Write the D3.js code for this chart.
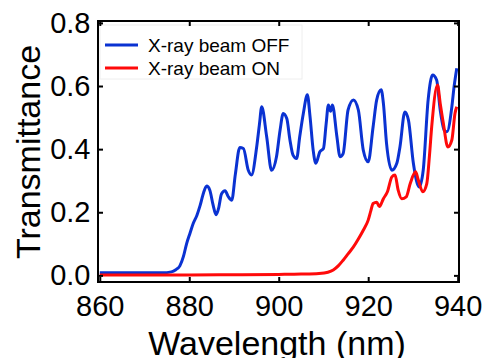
<!DOCTYPE html>
<html>
<head>
<meta charset="utf-8">
<script src="https://cdn.jsdelivr.net/npm/d3@7"></script>
<style>
  body { margin: 0; background: #fff; }
  text { font-family: "Liberation Sans", Arial, sans-serif; fill: #000; }
</style>
</head>
<body>
<div id="chart"></div>
<script>
// wavelength (nm) / transmittance
const offWave = [860, 865, 870, 874, 876, 877, 877.9, 878.7, 879.4, 880.2, 880.9, 881.7, 882.4, 883.2, 883.9, 884.6, 885.3, 886, 886.6, 887.2, 888, 888.7, 889.5, 890.3, 891.3, 892.1, 893.2, 893.9, 895.1, 895.7, 896.2, 897.3, 898.4, 899.5, 900.3, 901, 901.8, 902.5, 903.2, 904, 904.7, 905.5, 906.4, 907, 907.7, 908.3, 909.2, 910, 910.6, 911.1, 911.6, 912, 913, 913.7, 914.4, 915.5, 916.7, 917.8, 918.9, 920, 921.1, 921.9, 922.9, 923.4, 924.1, 925.3, 926.4, 927.1, 928.2, 929, 930.1, 931.4, 932.3, 933.4, 934.4, 935.3, 936.1, 937, 937.6, 938.7, 939.2, 939.8];
const offTrans = [0.008, 0.008, 0.008, 0.008, 0.011, 0.018, 0.03, 0.06, 0.10, 0.135, 0.165, 0.19, 0.22, 0.262, 0.283, 0.27, 0.225, 0.192, 0.215, 0.258, 0.268, 0.25, 0.238, 0.32, 0.405, 0.402, 0.333, 0.318, 0.41, 0.48, 0.534, 0.44, 0.333, 0.376, 0.46, 0.513, 0.497, 0.43, 0.381, 0.37, 0.44, 0.513, 0.572, 0.503, 0.397, 0.355, 0.392, 0.402, 0.48, 0.54, 0.52, 0.54, 0.44, 0.376, 0.386, 0.524, 0.556, 0.524, 0.397, 0.36, 0.471, 0.556, 0.588, 0.545, 0.418, 0.333, 0.355, 0.407, 0.518, 0.492, 0.355, 0.28, 0.333, 0.556, 0.635, 0.619, 0.524, 0.46, 0.455, 0.534, 0.598, 0.656];

const onWave = [860, 870, 880, 890, 900, 905, 909, 911, 912.2, 913.3, 914.4, 915.5, 916.7, 917.8, 918.9, 920, 920.6, 921.1, 921.9, 922.5, 923.4, 924.3, 925.3, 926, 926.7, 927.5, 928.5, 929.4, 930.6, 931.2, 932.2, 933.1, 933.7, 934.2, 935.5, 936.1, 936.8, 937.8, 938.7, 939.4, 939.8];
const onTrans = [0.001, 0.001, 0.001, 0.002, 0.003, 0.004, 0.006, 0.01, 0.017, 0.03, 0.048, 0.068, 0.09, 0.115, 0.143, 0.175, 0.205, 0.228, 0.232, 0.218, 0.243, 0.265, 0.312, 0.318, 0.27, 0.243, 0.249, 0.291, 0.328, 0.302, 0.265, 0.291, 0.38, 0.471, 0.603, 0.545, 0.482, 0.407, 0.429, 0.513, 0.534];

const xTicks = [860, 880, 900, 920, 940];
const yTicks = [0.0, 0.2, 0.4, 0.6, 0.8];
const seriesNames = ["X-ray beam OFF", "X-ray beam ON"];
const seriesColors = ["#0a32d2", "#ff0a0a"];

const width = 483, height = 358;
const plotL = 98, plotR = 459, plotT = 21, plotB = 282;

const svg = d3.select("#chart").append("svg")
  .attr("width", width)
  .attr("height", height);

const x = d3.scaleLinear().domain([859.6, 940.3]).range([plotL, plotR]);
const y = d3.scaleLinear().domain([-0.021, 0.806]).range([plotB, plotT]);

// lines
const line = d3.line()
  .x(d => x(d[0]))
  .y(d => y(d[1]))
  .curve(d3.curveMonotoneX);

const series = [
  d3.zip(offWave, offTrans),
  d3.zip(onWave, onTrans)
];

// legend box (drawn first, lines sit on top)
const legend = svg.append("g").attr("transform", "translate(100,25)");
legend.append("rect")
  .attr("width", 202).attr("height", 54)
  .attr("fill", "#fff")
  .attr("stroke", "#eee")
  .attr("stroke-width", 1);

svg.selectAll("path.series")
  .data(series)
  .join("path")
  .attr("class", "series")
  .attr("d", line)
  .attr("fill", "none")
  .attr("stroke", (d, i) => seriesColors[i])
  .attr("stroke-width", 3)
  .attr("stroke-linejoin", "round");

// frame
svg.append("rect")
  .attr("x", plotL).attr("y", plotT)
  .attr("width", plotR - plotL).attr("height", plotB - plotT)
  .attr("fill", "none")
  .attr("stroke", "#000")
  .attr("stroke-width", 2);

// axes, ticks pointing inward
const fmt = d3.format(".1f");
function styleAxis(g) {
  g.select(".domain").remove();
  g.selectAll(".tick line").attr("stroke", "#000").attr("stroke-width", 2);
}

svg.append("g")
  .attr("transform", `translate(0,${plotB})`)
  .call(d3.axisBottom(x).tickValues(xTicks).tickSizeInner(-5).tickSizeOuter(0).tickPadding(13))
  .call(styleAxis)
  .selectAll("text").style("font-size", "29px").attr("font-family", null);

svg.append("g")
  .attr("transform", `translate(0,${plotT})`)
  .call(d3.axisTop(x).tickValues(xTicks).tickSizeInner(-5).tickSizeOuter(0).tickFormat(""))
  .call(styleAxis);

svg.append("g")
  .attr("transform", `translate(${plotL},0)`)
  .call(d3.axisLeft(y).tickValues(yTicks).tickFormat(fmt).tickSizeInner(-5).tickSizeOuter(0).tickPadding(7.5))
  .call(styleAxis)
  .selectAll("text").style("font-size", "29px").attr("font-family", null);

svg.append("g")
  .attr("transform", `translate(${plotR},0)`)
  .call(d3.axisRight(y).tickValues(yTicks).tickSizeInner(-5).tickSizeOuter(0).tickFormat(""))
  .call(styleAxis);

// axis titles
svg.append("text")
  .attr("x", 277).attr("y", 355)
  .attr("text-anchor", "middle")
  .style("font-size", "34px")
  .text("Wavelength (nm)");

svg.append("text")
  .attr("transform", "translate(40,152) rotate(-90)")
  .attr("text-anchor", "middle")
  .style("font-size", "34px")
  .text("Transmittance");

// legend entries
const items = legend.selectAll("g.item")
  .data(seriesNames)
  .join("g")
  .attr("class", "item")
  .attr("transform", (d, i) => `translate(0,${20 + i * 23})`);

items.append("line")
  .attr("x1", 5).attr("x2", 38)
  .attr("stroke", (d, i) => seriesColors[i])
  .attr("stroke-width", 3);

items.append("text")
  .attr("x", 48).attr("y", 0)
  .attr("dy", "0.35em")
  .style("font-size", "19px")
  .text(d => d);
</script>
</body>
</html>
